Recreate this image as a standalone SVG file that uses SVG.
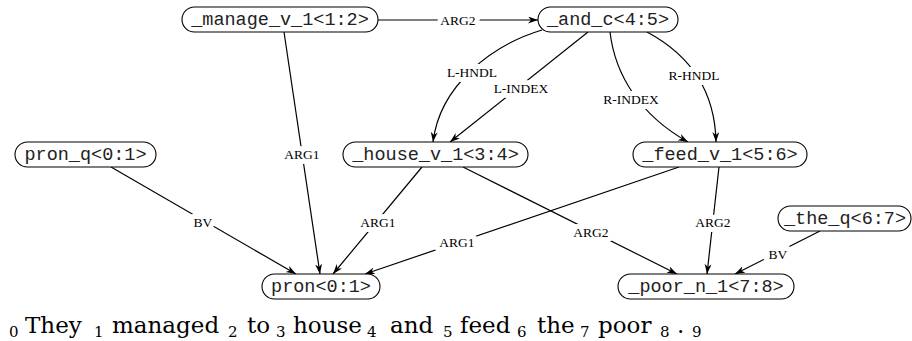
<svg xmlns="http://www.w3.org/2000/svg" width="912" height="341" viewBox="0 0 912 341">
<style>
.node rect{fill:#fff;stroke:#000;stroke-width:1.1}
.node text{font-family:"Liberation Mono",monospace;font-size:18.5px;text-anchor:middle;fill:#222}
.edge{fill:none;stroke:#000;stroke-width:1.2}
.lbl{font-family:"Liberation Serif",serif;font-size:13.5px;text-anchor:middle;fill:#000;stroke:#fff;stroke-width:10px;stroke-linejoin:round;paint-order:stroke}
.w{font-family:"DejaVu Serif",serif;font-size:23px;fill:#000}
.s{font-family:"DejaVu Serif",serif;font-size:15px;fill:#000}
</style>
<defs>
<marker id="ah" markerUnits="userSpaceOnUse" markerWidth="11" markerHeight="8" refX="10" refY="3.5" orient="auto">
<path d="M0,0 L10,3.5 L0,7 L3,3.5 z" fill="#000"/>
</marker>
</defs>
<g id="connectors">
<path class="edge" d="M378,20 L538,20" marker-end="url(#ah)"/>
<path class="edge" d="M284,32 L320,274" marker-end="url(#ah)"/>
<path class="edge" d="M111,167 L296,274" marker-end="url(#ah)"/>
<path class="edge" d="M422,167 L333,274" marker-end="url(#ah)"/>
<path class="edge" d="M679,167 L365,274" marker-end="url(#ah)"/>
<path class="edge" d="M463,167 L677,274" marker-end="url(#ah)"/>
<path class="edge" d="M719,167 L707,274" marker-end="url(#ah)"/>
<path class="edge" d="M820,231 L735,274" marker-end="url(#ah)"/>
<path class="edge" d="M542,30 C492,45 440,85 433,142" marker-end="url(#ah)"/>
<path class="edge" d="M588,32 L450,142" marker-end="url(#ah)"/>
<path class="edge" d="M610,32 C615,75 640,115 688,142" marker-end="url(#ah)"/>
<path class="edge" d="M647,32 C690,55 715,90 716,142" marker-end="url(#ah)"/>
<text class="lbl" x="458" y="24.5">ARG2</text>
<text class="lbl" x="302" y="159">ARG1</text>
<text class="lbl" x="203" y="226.5">BV</text>
<text class="lbl" x="378" y="226.5">ARG1</text>
<text class="lbl" x="457" y="247">ARG1</text>
<text class="lbl" x="591" y="236.5">ARG2</text>
<text class="lbl" x="713" y="226.5">ARG2</text>
<text class="lbl" x="778" y="258.5">BV</text>
<text class="lbl" x="472" y="76.5">L-HNDL</text>
<text class="lbl" x="521" y="92.5">L-INDEX</text>
<text class="lbl" x="631" y="103.5">R-INDEX</text>
<text class="lbl" x="694" y="79.5">R-HNDL</text>
</g>
<g id="n_manage" class="node"><rect x="182" y="7" width="196" height="25" rx="12.5"/><text x="280" y="25">_manage_v_1&lt;1:2&gt;</text></g>
<g id="n_and" class="node"><rect x="538" y="7" width="140" height="25" rx="12.5"/><text x="608" y="25">_and_c&lt;4:5&gt;</text></g>
<g id="n_pron_q" class="node"><rect x="15" y="142" width="141" height="25" rx="12.5"/><text x="85.5" y="160">pron_q&lt;0:1&gt;</text></g>
<g id="n_house" class="node"><rect x="343" y="142" width="185" height="25" rx="12.5"/><text x="435.5" y="160">_house_v_1&lt;3:4&gt;</text></g>
<g id="n_feed" class="node"><rect x="633" y="142" width="174" height="25" rx="12.5"/><text x="720" y="160">_feed_v_1&lt;5:6&gt;</text></g>
<g id="n_the_q" class="node"><rect x="778" y="206" width="133" height="25" rx="12.5"/><text x="845" y="224">_the_q&lt;6:7&gt;</text></g>
<g id="n_pron" class="node"><rect x="262" y="274" width="118" height="25" rx="12.5"/><text x="321" y="292">pron&lt;0:1&gt;</text></g>
<g id="n_poor" class="node"><rect x="618" y="274" width="176" height="25" rx="12.5"/><text x="706" y="292">_poor_n_1&lt;7:8&gt;</text></g>
<g id="sentence">
<text class="s" x="9" y="337">0</text>
<text class="w" x="25" y="333">They</text>
<text class="s" x="94" y="337">1</text>
<text class="w" x="112" y="333">managed</text>
<text class="s" x="228" y="337">2</text>
<text class="w" x="247" y="333">to</text>
<text class="s" x="276" y="337">3</text>
<text class="w" x="293" y="333">house</text>
<text class="s" x="367" y="337">4</text>
<text class="w" x="390" y="333">and</text>
<text class="s" x="443" y="337">5</text>
<text class="w" x="460" y="333">feed</text>
<text class="s" x="517" y="337">6</text>
<text class="w" x="537" y="333">the</text>
<text class="s" x="580" y="337">7</text>
<text class="w" x="598" y="333">poor</text>
<text class="s" x="660" y="337">8</text>
<text class="w" x="677" y="333">.</text>
<text class="s" x="692" y="337">9</text>
</g>
</svg>
